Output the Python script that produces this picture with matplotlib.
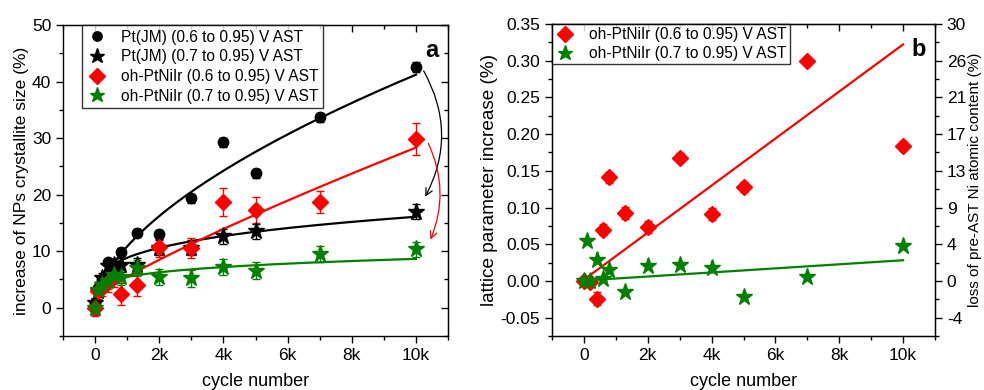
import numpy as np
import matplotlib
matplotlib.use("Agg")
import matplotlib.pyplot as plt
from matplotlib.lines import Line2D
from matplotlib.patches import FancyArrowPatch
from matplotlib.ticker import MultipleLocator, FuncFormatter

plt.rcParams['font.family'] = ['Liberation Sans', 'DejaVu Sans']

# ---------- panel a: crystallite size increase (%) ----------
x_pt06 = [0, 100, 200, 400, 600, 800, 1300, 2000, 3000, 4000, 5000, 7000, 10000]
y_pt06 = [0.8, 3.5, 5.0, 8.0, 7.5, 9.8, 13.2, 13.0, 19.4, 29.3, 23.8, 33.7, 42.6]
e_pt06 = [0.6, 0.6, 0.6, 0.6, 0.6, 0.7, 0.7, 0.8, 0.8, 0.8, 0.8, 0.8, 0.9]

x_pt07 = [0, 100, 200, 400, 600, 800, 1300, 2000, 3000, 4000, 5000, 10000]
y_pt07 = [0.8, 3.0, 5.2, 7.3, 7.5, 7.6, 7.6, 10.6, 10.6, 12.6, 13.5, 17.0]
e_pt07 = [1.0, 1.0, 1.0, 1.2, 1.2, 1.2, 1.2, 1.3, 1.3, 1.3, 1.3, 1.3]

x_oh06 = [0, 100, 200, 400, 600, 800, 1300, 2000, 3000, 4000, 5000, 7000, 10000]
y_oh06 = [0.0, 3.0, 3.5, 4.5, 5.5, 2.4, 4.1, 10.8, 10.6, 18.7, 17.3, 18.7, 29.8]
e_oh06 = [1.5, 1.5, 1.5, 1.8, 1.8, 1.9, 2.0, 1.8, 1.8, 2.5, 2.3, 2.0, 2.8]

x_oh07 = [0, 100, 200, 400, 600, 800, 1300, 2000, 3000, 4000, 5000, 7000, 10000]
y_oh07 = [0.0, 3.2, 4.0, 4.7, 5.8, 5.5, 7.0, 5.4, 5.2, 7.2, 6.5, 9.5, 10.3]
e_oh07 = [1.3, 1.3, 1.3, 1.4, 1.4, 1.4, 1.4, 1.4, 1.5, 1.5, 1.5, 1.5, 1.4]

# fitted curves: y = y0 + A * (cycles/1000) ** b
fit_pt06 = (0.0, 10.84, 0.58)
fit_pt07 = (0.0, 8.84, 0.26)
fit_oh06 = (1.7, 3.76, 0.85)
fit_oh07 = (0.0, 5.45, 0.20)

# ---------- panel b: lattice parameter increase (%) ----------
x_b06 = [0, 200, 400, 600, 800, 1300, 2000, 3000, 4000, 5000, 7000, 10000]
y_b06 = [0.0, -0.002, -0.024, 0.070, 0.141, 0.093, 0.073, 0.168, 0.091, 0.128, 0.300, 0.184]
e_b06 = [0.005, 0.005, 0.009, 0.008, 0.007, 0.008, 0.008, 0.006, 0.008, 0.007, 0.005, 0.007]

x_b07 = [0, 100, 200, 400, 600, 800, 1300, 2000, 3000, 4000, 5000, 7000, 10000]
y_b07 = [0.0, 0.055, 0.0, 0.029, 0.003, 0.015, -0.015, 0.020, 0.022, 0.017, -0.022, 0.006, 0.047]

# linear fits: y = intercept + slope * cycles
lin_b06 = (0.0017, 3.205e-5)
lin_b07 = (0.0005, 2.77e-6)

# right axis: loss of pre-AST Ni atomic content, scaled from left axis
ni_scale = 600 / 7

RED = '#ff0000'
GREEN = '#008000'
BLACK = '#000000'

TICK_FS = 12.5
LEG_FS = 11.2
MS_D = 8.5
MS_S = 12.5
MS_O = 7.5


def kfmt(v, pos):
    if abs(v) < 1e-9:
        return "0"
    return f"{int(round(v / 1000))}k"


def style_axes(ax):
    for s in ax.spines.values():
        s.set_linewidth(1.0)
    ax.tick_params(which='both', labelsize=TICK_FS, width=1.0)
    ax.tick_params(axis='x', which='both', direction='out', bottom=True, top=False)
    ax.tick_params(axis='y', which='both', direction='out', left=True)
    ax.tick_params(which='major', length=5)
    ax.tick_params(which='minor', length=3)
    ax.xaxis.set_major_locator(MultipleLocator(2000))
    ax.xaxis.set_minor_locator(MultipleLocator(1000))
    ax.xaxis.set_major_formatter(FuncFormatter(kfmt))
    # mirrored inward ticks on top
    top = ax.secondary_xaxis('top')
    top.xaxis.set_major_locator(MultipleLocator(2000))
    top.xaxis.set_minor_locator(MultipleLocator(1000))
    top.tick_params(which='both', direction='in', labeltop=False, width=1.0)
    top.tick_params(which='major', length=5)
    top.tick_params(which='minor', length=3)
    return top


def curve(p, xmin, xmax):
    xx = np.linspace(xmin, xmax, 300)
    y0, a, b = p
    return xx, y0 + a * (xx / 1000.0) ** b


fig = plt.figure(figsize=(9.84, 3.9), dpi=100)

# ====================== panel a ======================
ax1 = fig.add_axes([63 / 984, 54 / 390, 385 / 984, 311 / 390])

series_a = [
    (x_pt06, y_pt06, e_pt06, fit_pt06, BLACK, 'o', MS_O, 'Pt(JM) (0.6 to 0.95) V AST', 30),
    (x_pt07, y_pt07, e_pt07, fit_pt07, BLACK, '*', MS_S, 'Pt(JM) (0.7 to 0.95) V AST', 30),
    (x_oh06, y_oh06, e_oh06, fit_oh06, RED, 'D', MS_D, 'oh-PtNiIr (0.6 to 0.95) V AST', 150),
    (x_oh07, y_oh07, e_oh07, fit_oh07, GREEN, '*', MS_S, 'oh-PtNiIr (0.7 to 0.95) V AST', 100),
]

handles = []
for xs, ys, es, fit, col, mk, ms, lab, x0 in series_a:
    ax1.errorbar(xs, ys, yerr=es, fmt='none', ecolor=col, elinewidth=1.0,
                 capsize=3, capthick=1.0, zorder=2)
    ax1.plot(xs, ys, ls='none', marker=mk, ms=ms, color=col, mec=col, zorder=3)
    xx, yy = curve(fit, x0, 10000)
    ax1.plot(xx, yy, color=col, lw=1.6, zorder=2.5)
    handles.append(Line2D([], [], ls='none', marker=mk, ms=ms * 0.9, color=col, label=lab))

ax1.set_xlim(-1000, 11000)
ax1.set_ylim(-5, 50)
ax1.yaxis.set_major_locator(MultipleLocator(10))
ax1.yaxis.set_minor_locator(MultipleLocator(5))
style_axes(ax1)
ax1r = ax1.secondary_yaxis('right')
ax1r.yaxis.set_major_locator(MultipleLocator(10))
ax1r.yaxis.set_minor_locator(MultipleLocator(5))
ax1r.tick_params(which='both', direction='in', labelright=False, width=1.0)
ax1r.tick_params(which='major', length=5)
ax1r.tick_params(which='minor', length=3)

ax1.set_xlabel('cycle number', fontsize=13, labelpad=7)
ax1.set_ylabel('increase of NPs crystallite size (%)', fontsize=12.5, labelpad=2)

leg = ax1.legend(handles=handles, loc='upper left', bbox_to_anchor=(0.05, 1.0),
                 fontsize=LEG_FS, frameon=True, fancybox=False, borderaxespad=0,
                 handletextpad=0.9, labelspacing=0.3, borderpad=0.3,
                 handlelength=1.3)
leg.get_frame().set_edgecolor('black')
leg.get_frame().set_linewidth(1.0)

ax1.text(0.975, 0.955, 'a', transform=ax1.transAxes, fontsize=17,
         fontweight='bold', ha='right', va='top')

# curved arrows showing the effect of the narrower potential window
ax1.add_patch(FancyArrowPatch((10200, 42.3), (10250, 19.2),
                              connectionstyle='arc3,rad=-0.28',
                              arrowstyle='->,head_length=5,head_width=2.5',
                              color=BLACK, lw=0.9, zorder=4))
ax1.add_patch(FancyArrowPatch((10350, 29.5), (10420, 11.6),
                              connectionstyle='arc3,rad=-0.23',
                              arrowstyle='->,head_length=5,head_width=2.5',
                              color=RED, lw=0.9, zorder=4))

# ====================== panel b ======================
ax2 = fig.add_axes([552 / 984, 54 / 390, 383 / 984, 312 / 390])

ax2.errorbar(x_b06, y_b06, yerr=e_b06, fmt='none', ecolor=RED, elinewidth=1.0,
             capsize=3, capthick=1.0, zorder=2)
ax2.plot(x_b06, y_b06, ls='none', marker='D', ms=MS_D, color=RED, zorder=3)
ax2.plot(x_b07, y_b07, ls='none', marker='*', ms=MS_S, color=GREEN, zorder=3)

xl = np.array([100, 10000])
ax2.plot(xl, lin_b06[0] + lin_b06[1] * xl, color=RED, lw=1.6, zorder=2.5)
ax2.plot(xl, lin_b07[0] + lin_b07[1] * xl, color=GREEN, lw=1.6, zorder=2.5)

ax2.set_xlim(-1000, 11000)
ax2.set_ylim(-0.075, 0.35)
ax2.yaxis.set_major_locator(MultipleLocator(0.05))
ax2.yaxis.set_minor_locator(MultipleLocator(0.025))
ax2.yaxis.set_major_formatter(FuncFormatter(lambda v, p: f"{v:.2f}"))
style_axes(ax2)

ax2r = ax2.twinx()
ax2r.set_ylim(ax2.get_ylim())
ticks_b = np.arange(-0.05, 0.351, 0.05)
ax2r.set_yticks(ticks_b)
ax2r.set_yticklabels([f"{int(round(t * ni_scale))}" for t in ticks_b])
ax2r.yaxis.set_minor_locator(MultipleLocator(0.025))
ax2r.tick_params(which='both', direction='out', labelsize=TICK_FS, width=1.0)
ax2r.tick_params(which='major', length=5)
ax2r.tick_params(which='minor', length=3)
ax2r.set_ylabel('loss of pre-AST Ni atomic content (%)', fontsize=11, labelpad=1)

ax2.set_xlabel('cycle number', fontsize=13, labelpad=7)
ax2.set_ylabel('lattice parameter increase (%)', fontsize=13.7, labelpad=2)

handles_b = [
    Line2D([], [], ls='none', marker='D', ms=MS_D * 0.9, color=RED, label='oh-PtNiIr (0.6 to 0.95) V AST'),
    Line2D([], [], ls='none', marker='*', ms=MS_S * 0.9, color=GREEN, label='oh-PtNiIr (0.7 to 0.95) V AST'),
]
leg2 = ax2.legend(handles=handles_b, loc='upper left', bbox_to_anchor=(0.0, 1.0),
                  fontsize=LEG_FS, frameon=True, fancybox=False, borderaxespad=0,
                  handletextpad=0.9, labelspacing=0.25, borderpad=0.2,
                  handlelength=1.3)
leg2.get_frame().set_edgecolor('black')
leg2.get_frame().set_linewidth(1.0)

ax2.text(0.975, 0.955, 'b', transform=ax2.transAxes, fontsize=17,
         fontweight='bold', ha='right', va='top')

fig.savefig('out.png', dpi=100)
